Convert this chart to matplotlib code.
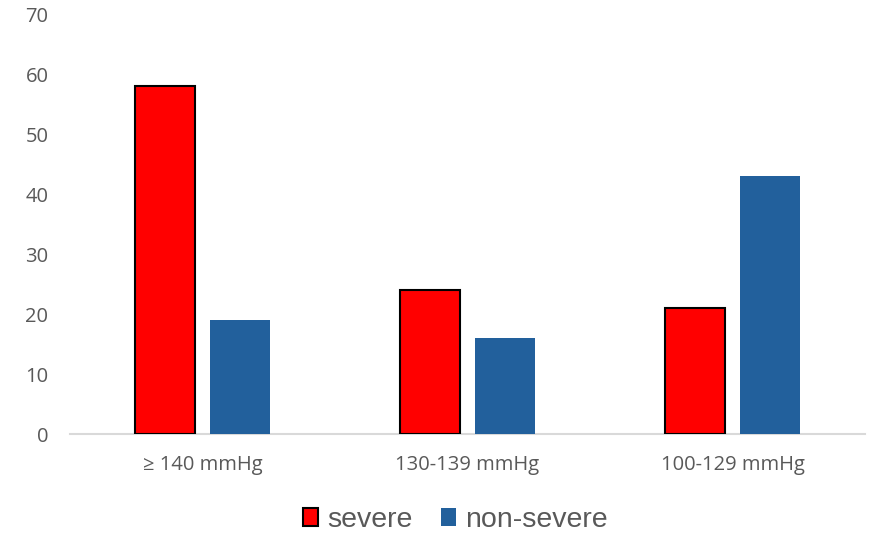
import matplotlib
matplotlib.use("Agg")
import matplotlib.pyplot as plt
import numpy as np
from matplotlib.patches import Patch

categories = ["≥ 140 mmHg", "130-139 mmHg", "100-129 mmHg"]
severe = [58, 24, 21]
non_severe = [19, 16, 43]
yticks = [0, 10, 20, 30, 40, 50, 60, 70]

plt.rcParams['font.family'] = ['Open Sans', 'DejaVu Sans']
txt = '#595959'

fig = plt.figure(figsize=(8.79, 5.37), dpi=100)
ax = fig.add_axes([70/879, 1-434/537, (865-70)/879, (434-14)/537])

x = np.arange(len(categories))
w = 0.225
off = 0.142
ax.bar(x - off, severe, width=w, color='#FF0000', edgecolor='black', linewidth=1.5, zorder=3)
ax.bar(x + off, non_severe, width=w, color='#22609C', edgecolor='none', zorder=3)

ax.set_xlim(-0.5, 2.5)
ax.set_ylim(0, 70)
ax.set_yticks(yticks)
ax.set_xticks(x)
ax.set_xticklabels(categories)
for s in ['top', 'right', 'left']:
    ax.spines[s].set_visible(False)
ax.spines['bottom'].set_color('#D9D9D9')
ax.spines['bottom'].set_linewidth(1.5)
ax.tick_params(axis='both', length=0, colors=txt, labelsize=14.5)
ax.tick_params(axis='y', pad=15.5)
ax.tick_params(axis='x', pad=15)

handles = [Patch(facecolor='#FF0000', edgecolor='black', linewidth=1.5, label='severe'),
           Patch(facecolor='#22609C', edgecolor='none', label='non-severe')]
leg = fig.legend(handles=handles, loc='center', bbox_to_anchor=(455/879, 1-520/537), ncol=2,
                 frameon=False, prop={'family': 'Liberation Sans', 'size': 20.5},
                 handlelength=0.55, handleheight=0.55,
                 handletextpad=0.3, columnspacing=1.0)
for t in leg.get_texts():
    t.set_color(txt)

fig.savefig('out.png', dpi=100)
